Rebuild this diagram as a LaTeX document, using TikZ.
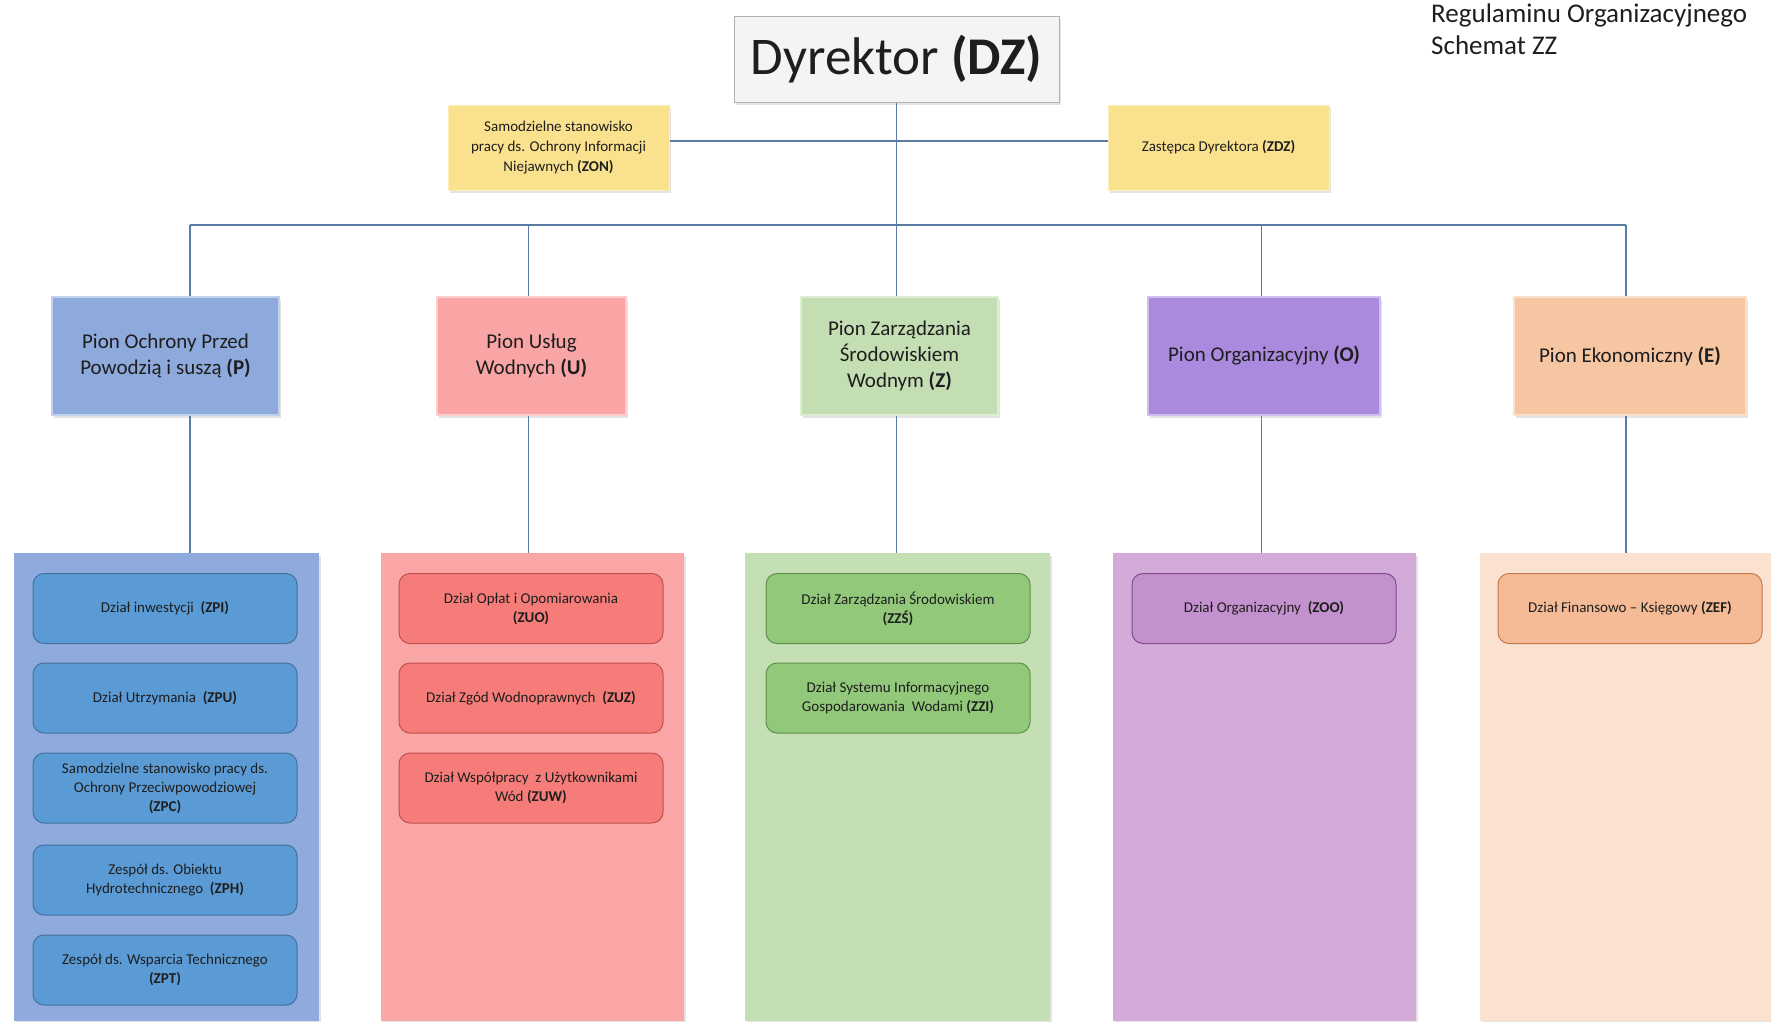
\documentclass[tikz,border=0pt]{standalone}
\usepackage{fontspec}
\setmainfont{Carlito}
\usetikzlibrary{shadows}
\definecolor{txt}{RGB}{30,30,30}
\definecolor{conn}{RGB}{88,124,166}
\definecolor{dirfill}{RGB}{244,244,244}
\definecolor{yel}{RGB}{250,225,142}
\definecolor{pionP}{RGB}{142,169,219}
\definecolor{colP}{RGB}{143,170,220}
\definecolor{inP}{RGB}{91,155,213}
\definecolor{inPd}{RGB}{65,113,156}
\definecolor{pionU}{RGB}{249,165,165}
\definecolor{colU}{RGB}{250,166,166}
\definecolor{inU}{RGB}{245,124,120}
\definecolor{inUd}{RGB}{192,80,77}
\definecolor{pionZ}{RGB}{196,222,180}
\definecolor{colZ}{RGB}{197,223,180}
\definecolor{inZ}{RGB}{145,200,122}
\definecolor{inZd}{RGB}{95,143,74}
\definecolor{pionO}{RGB}{170,138,222}
\definecolor{colO}{RGB}{212,170,216}
\definecolor{inO}{RGB}{195,145,205}
\definecolor{inOd}{RGB}{127,76,140}
\definecolor{pionE}{RGB}{246,198,162}
\definecolor{colE}{RGB}{250,225,208}
\definecolor{inE}{RGB}{245,186,150}
\definecolor{inEd}{RGB}{199,122,74}
\tikzset{
  shd/.style={drop shadow={opacity=0.22,shadow xshift=2pt,shadow yshift=-3pt}},
  dirbox/.style={rectangle,fill=dirfill,draw=gray!60,line width=1pt,shd,text=txt,
    minimum width=325pt,minimum height=86pt,inner sep=0pt,
    font=\fontsize{53}{60}\selectfont},
  yelbox/.style={rectangle,fill=yel,draw=yel!60!white,line width=1pt,shd,text=txt,align=center,
    minimum width=221pt,minimum height=85pt,inner sep=0pt,
    font=\fontsize{15}{20}\selectfont},
  pionbox/.style={rectangle,fill=#1,draw=#1!55!white,line width=2pt,shd,text=txt,align=center,
    minimum height=118pt,inner sep=0pt,font=\fontsize{21}{26}\selectfont},
  colbox/.style={rectangle,fill=#1,draw=none,shd,minimum height=468pt,inner sep=0pt},
  inbox/.style={rectangle,rounded corners=11pt,fill=in#1,draw=in#1d,line width=1pt,text=txt,align=center,
    minimum width=264pt,minimum height=70pt,inner sep=0pt,font=\fontsize{15}{19}\selectfont},
  conn/.style={draw=conn,line width=1.2pt}
}
\begin{document}
\begin{tikzpicture}[x=1pt,y=-1pt]
\useasboundingbox (0,0) rectangle (1771,1021);
% title
\node[anchor=north west,inner sep=0pt,text=txt,align=left,font=\fontsize{27}{32}\selectfont] (title) at (1431,4) {Regulaminu Organizacyjnego\\Schemat ZZ};
% top
\node[dirbox] (DZ) at (896.5,59) {Dyrektor \textbf{(DZ)}};
\node[yelbox] (ZON) at (558.5,147.5) {Samodzielne stanowisko\\pracy ds. Ochrony Informacji\\Niejawnych \textbf{(ZON)}};
\node[yelbox] (ZDZ) at (1218.5,147.5) {Zastępca Dyrektora \textbf{(ZDZ)}};
% columns
\node[colbox=colP,minimum width=305pt] (cP) at (166.5,787) {};
\node[colbox=colU,minimum width=303pt] (cU) at (532.5,787) {};
\node[colbox=colZ,minimum width=305pt] (cZ) at (897.5,787) {};
\node[colbox=colO,minimum width=303pt] (cO) at (1264.5,787) {};
\node[colbox=colE,minimum width=305pt] (cE) at (1632.5,787) {};
% pions
\node[pionbox=pionP,minimum width=227pt] (PP) at (165.5,356) {Pion Ochrony Przed\\Powodzią i suszą \textbf{(P)}};
\node[pionbox=pionU,minimum width=189pt] (PU) at (531.5,356) {Pion Usług\\Wodnych \textbf{(U)}};
\node[pionbox=pionZ,minimum width=197pt] (PZ) at (899.5,356) {Pion Zarządzania\\Środowiskiem\\Wodnym \textbf{(Z)}};
\node[pionbox=pionO,minimum width=232pt] (PO) at (1264,356) {Pion Organizacyjny \textbf{(O)}};
\node[pionbox=pionE,minimum width=232pt] (PE) at (1630,356) {Pion Ekonomiczny \textbf{(E)}};
% inner boxes P
\node[inbox=P] (ZPI) at (165,608.5) {Dział inwestycji \ \textbf{(ZPI)}};
\node[inbox=P] (ZPU) at (165,698) {Dział Utrzymania \ \textbf{(ZPU)}};
\node[inbox=P] (ZPC) at (165,788) {Samodzielne stanowisko pracy ds.\\Ochrony Przeciwpowodziowej\\\textbf{(ZPC)}};
\node[inbox=P] (ZPH) at (165,880) {Zespół ds. Obiektu\\Hydrotechnicznego \ \textbf{(ZPH)}};
\node[inbox=P] (ZPT) at (165,970) {Zespół ds. Wsparcia Technicznego\\\textbf{(ZPT)}};
% inner boxes U
\node[inbox=U] (ZUO) at (531,608.5) {Dział Opłat i Opomiarowania\\\textbf{(ZUO)}};
\node[inbox=U] (ZUZ) at (531,698) {Dział Zgód Wodnoprawnych \ \textbf{(ZUZ)}};
\node[inbox=U] (ZUW) at (531,788) {Dział Współpracy \ z Użytkownikami\\Wód \textbf{(ZUW)}};
% inner boxes Z
\node[inbox=Z] (ZZS) at (898,608.5) {Dział Zarządzania Środowiskiem\\\textbf{(ZZŚ)}};
\node[inbox=Z] (ZZI) at (898,698) {Dział Systemu Informacyjnego\\Gospodarowania \ Wodami \textbf{(ZZI)}};
% inner O, E
\node[inbox=O] (ZOO) at (1264,608.5) {Dział Organizacyjny \ \textbf{(ZOO)}};
\node[inbox=E] (ZEF) at (1630,608.5) {Dział Finansowo – Księgowy \textbf{(ZEF)}};
% connectors
\coordinate (bP) at (190,225);
\coordinate (bU) at (528.5,225);
\coordinate (bZ) at (896.5,225);
\coordinate (bO) at (1261.5,225);
\coordinate (bE) at (1626,225);
\draw[conn] ([yshift=6.5pt]ZON.east) -- ([yshift=6.5pt]ZDZ.west);
\draw[conn] (DZ.south) -- (DZ.south |- PZ.north);
\draw[conn] (bP) -- (bE);
\draw[conn] (bP) -- (bP |- PP.north);
\draw[conn] (bU) -- (bU |- PU.north);
\draw[conn] (bO) -- (bO |- PO.north);
\draw[conn] (bE) -- (bE |- PE.north);
\draw[conn] (bP |- PP.south) -- (bP |- cP.north);
\draw[conn] (bU |- PU.south) -- (bU |- cU.north);
\draw[conn] (bZ |- PZ.south) -- (bZ |- cZ.north);
\draw[conn] (bO |- PO.south) -- (bO |- cO.north);
\draw[conn] (bE |- PE.south) -- (bE |- cE.north);
\end{tikzpicture}
\end{document}
